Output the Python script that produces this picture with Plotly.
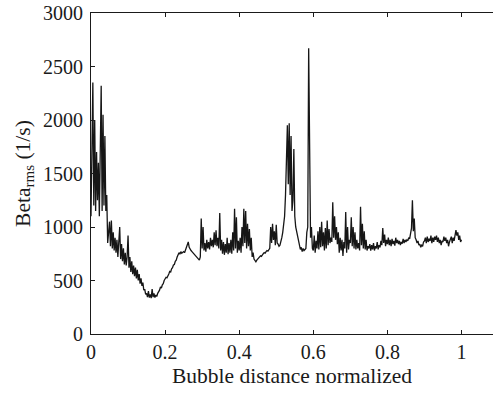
import numpy as np
import plotly.graph_objects as go

# Beta_rms values sampled every 0.0025 of normalized bubble distance (0 .. 1)
beta_rms = [
    # 0.00 - 0.05
    1100, 1750, 2350, 1200, 2000, 1150, 1700, 1250, 1600, 1100,
    1750, 2320, 1150, 2050, 1200, 1850, 1150, 1300, 850, 1000,
    # 0.05 - 0.10
    1050, 820, 1060, 800, 950, 780, 900, 760, 880, 720,
    850, 1000, 700, 840, 680, 800, 650, 760, 640, 720,
    # 0.10 - 0.15
    920, 620, 720, 580, 680, 560, 640, 540, 620, 520,
    600, 500, 560, 470, 520, 450, 480, 410, 420, 370,
    # 0.15 - 0.20
    380, 345, 400, 340, 370, 335, 420, 345, 380, 340,
    365, 350, 380, 395, 410, 440, 430, 460, 470, 500,
    # 0.20 - 0.25
    510, 530, 525, 555, 560, 585, 580, 610, 620, 645,
    650, 680, 690, 720, 735, 760, 745, 770, 755, 760,
    # 0.25 - 0.30
    770, 760, 790, 800, 830, 860, 810, 790, 780, 770,
    760, 750, 740, 735, 720, 715, 700, 690, 720, 1080,
    # 0.30 - 0.35
    800, 1000, 780, 850, 770, 880, 800, 860, 790, 900,
    820, 880, 810, 950, 830, 970, 820, 900, 800, 1130,
    # 0.35 - 0.40
    780, 880, 750, 860, 740, 840, 760, 900, 745, 850,
    760, 880, 750, 950, 780, 1170, 800, 1090, 760, 870,
    # 0.40 - 0.45
    780, 900, 760, 1000, 820, 1170, 850, 1150, 800, 1030,
    820, 980, 780, 900, 720, 760, 700, 690, 675, 690,
    # 0.45 - 0.50
    700, 705, 720, 730, 725, 745, 750, 760, 755, 770,
    780, 775, 785, 800, 1000, 850, 1030, 880, 960, 830,
    # 0.50 - 0.55
    1020, 850, 840, 820, 830, 860, 900, 950, 1020, 1100,
    1300, 1550, 1950, 1400, 1970, 1300, 1850, 1150, 1250, 1730,
    # 0.55 - 0.60
    1100, 1000, 960, 900, 850, 820, 790, 810, 770, 800,
    780, 790, 800, 950, 1000, 2670, 1620, 900, 1000, 800,
    # 0.60 - 0.65
    780, 920, 760, 870, 800, 960, 790, 1000, 810, 1050,
    820, 950, 780, 990, 800, 1060, 830, 980, 850, 900,
    # 0.65 - 0.70
    860, 1230, 900, 1100, 880, 1000, 840, 950, 760, 900,
    780, 880, 730, 860, 800, 1140, 760, 1000, 790, 880,
    # 0.70 - 0.75
    850, 1090, 820, 1000, 800, 950, 790, 880, 800, 850,
    780, 1190, 830, 1030, 800, 960, 790, 880, 780, 820,
    # 0.75 - 0.80
    800, 840, 780, 830, 790, 850, 780, 820, 800, 860,
    790, 830, 810, 870, 830, 990, 850, 930, 820, 880,
    # 0.80 - 0.85
    840, 900, 830, 880, 820, 890, 840, 870, 825, 900,
    850, 880, 840, 870, 830, 860, 845, 890, 850, 880,
    # 0.85 - 0.90
    860, 880, 870, 900, 890, 940, 990, 1250, 960, 1080,
    900, 880, 850, 870, 830, 840, 810, 830, 820, 860,
    # 0.90 - 1.00
    870, 900, 850, 910, 860, 890, 870, 920, 850, 900,
    860, 910, 880, 920, 860, 900, 850, 880, 830, 870,
    860, 910, 870, 900, 850, 880, 820, 860, 880, 910,
    850, 900, 870, 940, 970, 920, 950, 880, 920, 860,
    880,
]

distance = np.linspace(0.0, 1.0, len(beta_rms))

x_ticks = [0, 0.2, 0.4, 0.6, 0.8, 1]
x_tick_labels = ["0", "0.2", "0.4", "0.6", "0.8", "1"]
y_ticks = [0, 500, 1000, 1500, 2000, 2500, 3000]
y_tick_labels = ["0", "500", "1000", "1500", "2000", "2500", "3000"]

FONT = "Liberation Serif"
FS = 20
TFS = 21.5

fig = go.Figure()
fig.add_trace(go.Scatter(
    x=distance, y=beta_rms, mode="lines",
    line=dict(color="#161616", width=1.3),
    showlegend=False, hoverinfo="skip",
))

fig.update_layout(
    width=493, height=394,
    margin=dict(l=91, r=0, t=13, b=60),
    paper_bgcolor="white", plot_bgcolor="white",
    font=dict(family=FONT, size=FS, color="#1a1a1a"),
    xaxis=dict(
        range=[0, 1.085], tickvals=x_ticks, ticktext=x_tick_labels,
        ticks="inside", ticklen=4, tickcolor="#1a1a1a",
        showline=True, linecolor="#1a1a1a", linewidth=1, mirror="ticks",
        showgrid=False, zeroline=False,
        tickfont=dict(family=FONT, size=FS),
        title=dict(text="Bubble distance normalized", standoff=5,
                   font=dict(family=FONT, size=TFS)),
    ),
    yaxis=dict(
        range=[0, 3000], tickvals=y_ticks, ticktext=y_tick_labels,
        ticks="inside", ticklen=4, tickcolor="#1a1a1a",
        showline=True, linecolor="#1a1a1a", linewidth=1,
        showgrid=False, zeroline=False, ticklabelstandoff=3,
        tickfont=dict(family=FONT, size=FS),
        title=dict(text="Beta<sub>rms</sub> (1/s)", standoff=6,
                   font=dict(family=FONT, size=TFS)),
    ),
)

fig.write_html("out.html")
